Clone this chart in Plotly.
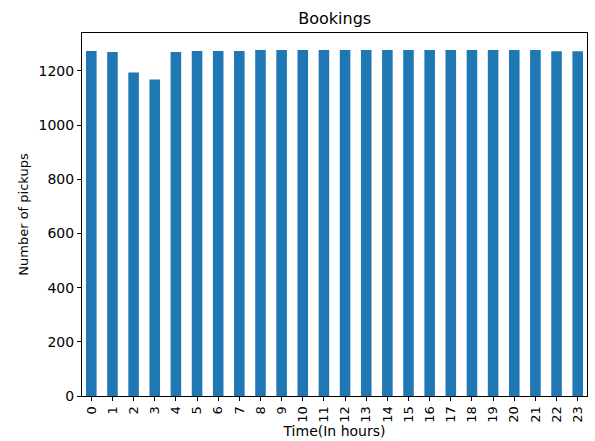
import plotly.graph_objects as go

# Hourly pickup counts
hours = list(range(24))
pickups = [1274, 1270, 1194, 1168, 1270, 1274, 1274, 1274, 1277, 1277, 1277, 1277,
           1277, 1277, 1277, 1277, 1277, 1277, 1277, 1277, 1277, 1277, 1273, 1273]
y_ticks = [0, 200, 400, 600, 800, 1000, 1200]

FONT = "DejaVu Sans"

fig = go.Figure(
    go.Bar(
        x=hours,
        y=pickups,
        width=0.5,
        marker=dict(color="#1f77b4", line=dict(width=0)),
    )
)

axis_common = dict(
    showline=True,
    mirror=True,
    linecolor="black",
    linewidth=1,
    ticks="outside",
    ticklen=4,
    tickwidth=1,
    tickcolor="black",
    showgrid=False,
    zeroline=False,
    automargin=False,
)

fig.update_layout(
    width=595,
    height=441,
    margin=dict(l=82, r=8, t=33, b=45),
    paper_bgcolor="white",
    plot_bgcolor="white",
    showlegend=False,
    title=dict(
        text="Bookings",
        x=0.5625,
        xanchor="center",
        y=0.958,
        yanchor="middle",
        font=dict(family=FONT, size=16, color="black"),
    ),
    xaxis=dict(
        **axis_common,
        range=[-0.44, 23.44],
        tickmode="array",
        tickvals=hours,
        ticktext=[str(h) for h in hours],
        tickangle=-90,
        tickfont=dict(family=FONT, size=13, color="black"),
        title=dict(text="Time(In hours)", standoff=3,
                   font=dict(family=FONT, size=14, color="black")),
    ),
    yaxis=dict(
        **axis_common,
        range=[0, 1340],
        tickmode="array",
        tickvals=y_ticks,
        ticktext=[str(v) for v in y_ticks],
        tickfont=dict(family=FONT, size=14, color="black"),
        title=dict(text="Number of pickups", standoff=7,
                   font=dict(family=FONT, size=13, color="black")),
    ),
)

fig.write_html("out.html")
